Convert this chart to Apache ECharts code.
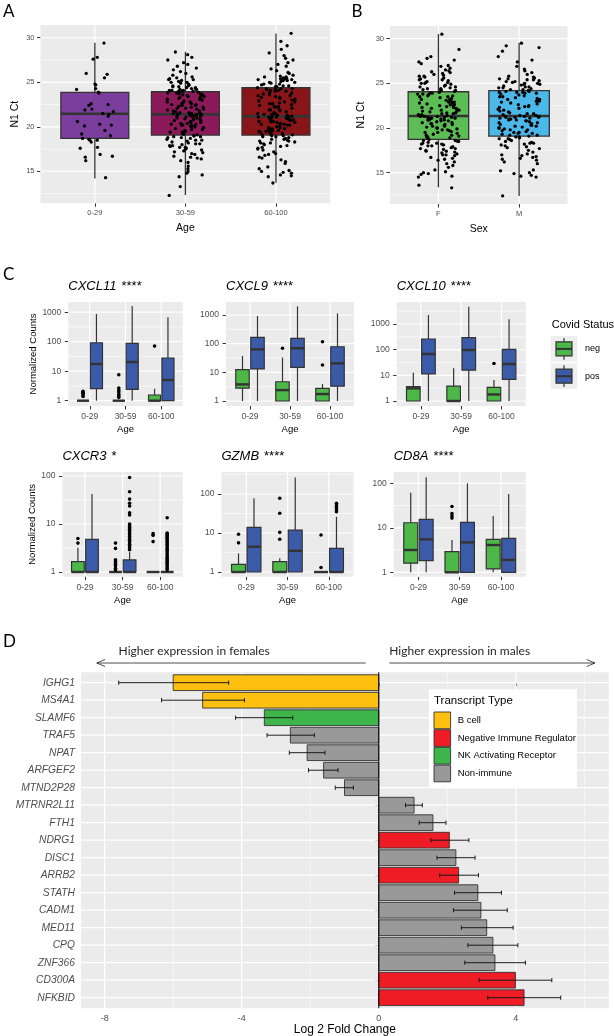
<!DOCTYPE html>
<html><head><meta charset="utf-8">
<script src="https://cdn.jsdelivr.net/npm/echarts@6.0.0/dist/echarts.min.js"></script>
<style>html,body{margin:0;padding:0;background:#fff}#c{width:614px;height:1036px}</style>
</head><body><div id="c"></div>
<script>
// ================= DATA =================
// Panel A : N1 Ct by age group
const ageGroups = ['0-29', '30-59', '60-100'];
// [min, Q1, median, Q3, max]
const ageBoxStats = [[14.2, 18.7, 21.47, 23.87, 29.44], [12.34, 19.08, 21.4, 23.94, 28.43], [13.72, 19.08, 21.18, 24.39, 30.49]];
const ctAge0029 = [29.4, 27.8, 27.6, 26.0, 25.9, 25.5, 24.8, 24.7, 24.3, 24.2, 23.9, 23.8, 22.6, 22.5, 22.4, 22.0, 21.9, 21.7, 21.5, 21.4, 21.2, 20.6, 20.3, 20.2, 20.1, 19.6, 19.2, 19.0, 18.7, 18.6, 18.5, 18.5, 18.3, 17.7, 17.6, 16.9, 16.7, 16.6, 16.2, 14.3];
const ctAge3059 = [12.3, 13.3, 14.4, 14.6, 14.8, 15.0, 15.3, 15.6, 16.0, 16.2, 16.4, 16.5, 16.7, 16.9, 17.0, 17.1, 17.3, 17.4, 17.5, 17.6, 17.7, 17.8, 17.9, 18.0, 18.1, 18.2, 18.3, 18.4, 18.5, 18.6, 18.7, 18.8, 18.8, 18.9, 19.0, 19.0, 19.1,
  19.2, 19.2, 19.3, 19.4, 19.4, 19.5, 19.6, 19.7, 19.8, 19.9, 20.0, 20.0, 20.1, 20.2, 20.2, 20.3, 20.4, 20.5, 20.5, 20.6, 20.7, 20.7, 20.8, 20.9, 20.9, 21.0, 21.0, 21.1, 21.1, 21.2, 21.2, 21.3, 21.3, 21.3, 21.4, 21.4, 21.4, 21.4,
  21.5, 21.5, 21.6, 21.6, 21.7, 21.8, 21.8, 21.9, 22.0, 22.0, 22.1, 22.2, 22.2, 22.3, 22.4, 22.5, 22.5, 22.6, 22.7, 22.8, 22.8, 22.9, 23.0, 23.0, 23.1, 23.2, 23.3, 23.3, 23.4, 23.5, 23.5, 23.6, 23.7, 23.7, 23.8, 23.8, 23.9, 23.9,
  24.0, 24.0, 24.1, 24.1, 24.2, 24.2, 24.3, 24.4, 24.4, 24.5, 24.6, 24.7, 24.8, 24.9, 25.0, 25.1, 25.2, 25.3, 25.4, 25.5, 25.6, 25.8, 26.0, 26.2, 26.4, 26.6, 26.8, 27.0, 27.2, 27.5, 27.8, 28.1, 28.4, 24.0, 24.3, 24.5, 25.0,
  16.6, 17.2, 17.7, 18.1, 18.5, 19.3, 19.7, 20.1, 20.4, 20.8, 21.2, 21.6, 22.1, 22.6, 23.1, 23.6, 24.1, 24.6, 25.3, 17.9, 18.9, 20.3, 22.4, 23.4];
const ctAge60100 = [13.7, 14.4, 14.5, 14.6, 14.8, 14.9, 15.0, 15.1, 15.3, 15.5, 15.9, 16.3, 16.5, 16.6, 16.8, 17.0, 17.2, 17.4, 17.6, 17.7, 17.8, 17.9, 18.0, 18.1, 18.2, 18.3, 18.4, 18.5, 18.6, 18.7, 18.8, 18.9, 18.9, 19.0, 19.0, 19.1, 19.1,
  19.2, 19.2, 19.3, 19.3, 19.4, 19.5, 19.5, 19.6, 19.7, 19.7, 19.8, 19.9, 19.9, 20.0, 20.1, 20.1, 20.2, 20.3, 20.3, 20.4, 20.5, 20.5, 20.6, 20.6, 20.7, 20.8, 20.8, 20.9, 20.9, 21.0, 21.0, 21.0, 21.1, 21.1, 21.1, 21.2, 21.2, 21.2,
  21.3, 21.3, 21.4, 21.5, 21.5, 21.6, 21.7, 21.8, 21.9, 22.0, 22.1, 22.2, 22.3, 22.4, 22.5, 22.6, 22.7, 22.8, 22.9, 23.0, 23.1, 23.2, 23.3, 23.4, 23.5, 23.6, 23.7, 23.8, 23.9, 24.0, 24.0, 24.1, 24.1, 24.2, 24.2, 24.3, 24.3, 24.4,
  24.5, 24.5, 24.6, 24.7, 24.8, 24.9, 25.0, 25.1, 25.2, 25.3, 25.3, 25.4, 25.4, 25.5, 25.5, 25.6, 25.7, 25.8, 26.0, 26.1, 26.3, 26.5, 26.8, 27.0, 27.2, 27.5, 27.7, 28.0, 28.3, 28.7, 29.1, 29.6, 30.5, 25.2, 25.4, 24.6, 25.0,
  16.1, 16.9, 17.5, 18.2, 18.6, 19.4, 19.8, 20.2, 20.6, 21.0, 21.4, 21.9, 22.3, 22.8, 23.3, 23.8, 24.3, 24.8, 25.6, 18.4, 19.6, 20.7, 22.6, 23.5];

// Panel B : N1 Ct by sex
const sexGroups = ['F', 'M'];
const sexBoxStats = [[13.36, 18.73, 21.34, 24.06, 30.53], [12.38, 19.1, 21.34, 24.18, 29.55]];
const ctSexF = [13.3, 13.6, 14.5, 14.6, 14.8, 14.9, 15.0, 15.1, 15.3, 15.6, 15.8, 16.0, 16.2, 16.4, 16.6, 16.7, 16.9, 17.0, 17.1, 17.2, 17.3, 17.4, 17.5, 17.6, 17.7, 17.7, 17.8, 17.9, 18.0, 18.0, 18.1, 18.2, 18.3, 18.3, 18.4, 18.5, 18.5, 18.6, 18.6, 18.7,
  18.8, 18.9, 19.0, 19.1, 19.2, 19.2, 19.3, 19.4, 19.5, 19.5, 19.6, 19.7, 19.8, 19.9, 20.0, 20.0, 20.1, 20.2, 20.2, 20.3, 20.4, 20.4, 20.5, 20.6, 20.6, 20.7, 20.8, 20.8, 20.9, 20.9, 21.0, 21.0, 21.1, 21.1, 21.2, 21.2, 21.2, 21.3, 21.3, 21.3,
  21.4, 21.4, 21.5, 21.5, 21.6, 21.6, 21.7, 21.8, 21.8, 21.9, 22.0, 22.0, 22.1, 22.2, 22.2, 22.3, 22.4, 22.5, 22.5, 22.6, 22.7, 22.8, 22.8, 22.9, 23.0, 23.1, 23.2, 23.2, 23.3, 23.4, 23.5, 23.5, 23.6, 23.7, 23.8, 23.8, 23.9, 23.9, 24.0, 24.1,
  24.2, 24.2, 24.3, 24.4, 24.4, 24.5, 24.6, 24.7, 24.8, 24.9, 25.0, 25.1, 25.2, 25.3, 25.4, 25.5, 25.6, 25.7, 25.8, 25.9, 26.0, 26.1, 26.2, 26.4, 26.5, 26.7, 26.9, 27.0, 27.2, 27.4, 27.6, 27.8, 28.0, 28.8, 30.5, 24.6, 25.0, 25.4, 25.8, 26.3,
  16.5, 17.4, 18.2, 19.0, 19.8, 20.5, 21.1, 21.7, 22.3, 22.9, 23.6, 24.3, 25.1, 17.0, 20.9, 22.6];
const ctSexM = [12.4, 14.5, 14.6, 14.7, 14.9, 15.0, 15.2, 15.3, 16.0, 16.2, 16.4, 16.5, 16.6, 16.8, 16.9, 17.1, 17.3, 17.5, 17.7, 17.8, 17.9, 18.0, 18.1, 18.2, 18.3, 18.4, 18.5, 18.6, 18.7, 18.8, 18.8, 18.9, 19.0, 19.0, 19.1,
  19.2, 19.2, 19.3, 19.4, 19.5, 19.5, 19.6, 19.7, 19.8, 19.9, 20.0, 20.0, 20.1, 20.2, 20.3, 20.3, 20.4, 20.4, 20.5, 20.6, 20.6, 20.7, 20.8, 20.8, 20.9, 21.0, 21.0, 21.1, 21.1, 21.2, 21.2, 21.2, 21.3, 21.3, 21.3,
  21.4, 21.4, 21.5, 21.6, 21.7, 21.8, 21.9, 22.0, 22.1, 22.2, 22.3, 22.4, 22.5, 22.6, 22.7, 22.8, 22.9, 23.0, 23.0, 23.1, 23.2, 23.3, 23.4, 23.5, 23.5, 23.6, 23.7, 23.8, 23.9, 23.9, 24.0, 24.0, 24.1, 24.1, 24.2,
  24.3, 24.3, 24.4, 24.5, 24.5, 24.6, 24.7, 24.8, 24.9, 25.0, 25.0, 25.1, 25.2, 25.3, 25.4, 25.5, 25.5, 25.6, 25.7, 25.8, 26.0, 26.2, 26.4, 26.6, 26.9, 27.4, 27.6, 28.0, 28.6, 29.0, 29.2, 29.5, 24.6, 25.2, 25.4,
  17.0, 18.3, 19.4, 20.2, 20.9, 21.6, 22.4, 23.2, 24.0, 24.9, 16.7, 19.8];
const ctTicks = [15, 20, 25, 30];
const ctMinorTicks = [12.5, 17.5, 22.5, 27.5];

// Panel C : normalized counts, [min, Q1, median, Q3, max] per age group
const cAgeGroups = ['0-29', '30-59', '60-100'];
const covidStatus = ['neg', 'pos'];
const cxcl11Neg = [[1, 1, 1, 1, 1], [1, 1, 1, 1, 1], [1, 1, 1, 1.56, 2.55]];
const cxcl11Pos = [[1, 2.55, 17.5, 92, 868], [1, 2.43, 20.5, 88, 1620], [1, 1, 5.0, 28, 670]];
const cxcl11NegOut = [[2.1, 1.9, 1.8, 1.6, 1.4], [7.6, 2.7, 2.3, 2.0, 1.7, 1.5, 1.3], [71]];
const cxcl11PosOut = [[], [], []];
const cxcl9Neg = [[1, 2.8, 3.8, 12.5, 37], [1, 1, 2.4, 4.7, 33], [1, 1, 1.75, 2.77, 3.9]];
const cxcl9Pos = [[1, 13.1, 63, 167, 920], [1, 15, 69, 153, 2000], [1, 3.3, 20.6, 78, 1140]];
const cxcl9NegOut = [[], [69], [18, 117]];
const cxcl9PosOut = [[], [], []];
const cxcl10Neg = [[1, 1, 3.1, 3.6, 12.7], [1, 1, 1, 3.8, 18.8], [1, 1, 1.8, 3.4, 6.6]];
const cxcl10Pos = [[1, 11.3, 68, 260, 2240], [1, 16, 97, 292, 4700], [1, 7, 27.6, 103, 1530]];
const cxcl10NegOut = [[], [], [29]];
const cxcl10PosOut = [[], [], []];
const cxcr3Neg = [[1, 1, 1, 1.64, 3.2], [1, 1, 1, 1, 1], [1, 1, 1, 1, 1]];
const cxcr3Pos = [[1, 1, 1, 4.8, 42], [1, 1, 1, 1.78, 2.6], [1, 1, 1, 1, 1]];
const cxcr3NegOut = [[5.0, 4.0], [4.0, 3.1, 1.8, 1.7, 1.55, 1.45, 1.35, 1.2, 1.1], [6.3, 5.8, 4.3]];
const cxcr3PosOut = [[], [93, 47, 33, 27, 23.7, 17.2, 15.4, 10, 9.3, 8.5, 7.8, 7.2, 6.6, 6, 5.5, 5, 4.6, 4.2, 3.8, 3.5, 3.2, 2.9],
  [13.5, 6.5, 6.2, 5.9, 5.6, 5.3, 5.0, 4.7, 4.4, 4.1, 3.8, 3.5, 3.2, 3.0, 2.8, 2.6, 2.4, 2.2, 2.0, 1.9, 1.8, 1.7, 1.6, 1.5, 1.4, 1.3, 1.2, 1.1]];
const gzmbNeg = [[1, 1, 1, 1.57, 3.0], [1, 1, 1, 1.84, 2.25], [1, 1, 1, 1, 1]];
const gzmbPos = [[1, 1, 4.45, 14, 78], [1, 1, 3.5, 11.9, 266], [1, 1, 1, 4.05, 26]];
const gzmbNegOut = [[9.3, 5.6], [78, 32, 10.4, 6.9], [8.9, 1.3]];
const gzmbPosOut = [[], [], [58, 52, 46, 40, 35]];
const cd8aNeg = [[1, 1.6, 3.17, 13, 61.6], [1, 1, 1, 2.9, 5.3], [1, 1.19, 4.1, 5.5, 18.4]];
const cd8aPos = [[1, 1.82, 5.5, 15.5, 136], [1, 1, 4.7, 13.3, 100], [1, 1, 1.9, 5.8, 57.6]];
const cd8aNegOut = [[], [30, 21, 18.5, 16.5], []];
const cd8aPosOut = [[], [], []];
const logTicks = [1, 10, 100, 1000];
const logMinorTicks = [3.162, 31.62, 316.2, 3162];

// Panel D : log2 fold change (males vs females)
const dGenes = ['IGHG1', 'MS4A1', 'SLAMF6', 'TRAF5', 'NPAT', 'ARFGEF2', 'MTND2P28', 'MTRNR2L11', 'FTH1', 'NDRG1', 'DISC1', 'ARRB2', 'STATH', 'CADM1', 'MED11', 'CPQ', 'ZNF366', 'CD300A', 'NFKBID'];
const dLog2FC = [-6.0, -5.14, -3.34, -2.58, -2.09, -1.61, -1.0, 1.03, 1.58, 2.06, 2.25, 2.33, 2.89, 2.98, 3.15, 3.33, 3.39, 3.99, 4.24];
const dErrLow = [-7.59, -6.34, -4.18, -3.26, -2.61, -2.05, -1.27, 0.78, 1.18, 1.52, 1.70, 1.78, 2.21, 2.18, 2.41, 2.60, 2.51, 2.93, 3.18];
const dErrHigh = [-4.38, -3.92, -2.51, -1.88, -1.57, -1.19, -0.74, 1.27, 1.96, 2.63, 2.81, 2.91, 3.58, 3.75, 3.92, 4.06, 4.28, 5.05, 5.31];
const transcriptTypes = ['B cell', 'Negative Immune Regulator', 'NK Activating Receptor', 'Non-immune'];
const dType = ['B cell', 'B cell', 'NK Activating Receptor', 'Non-immune', 'Non-immune', 'Non-immune', 'Non-immune', 'Non-immune', 'Non-immune', 'Negative Immune Regulator', 'Non-immune', 'Negative Immune Regulator', 'Non-immune', 'Non-immune', 'Non-immune', 'Non-immune', 'Non-immune', 'Negative Immune Regulator', 'Negative Immune Regulator'];
const fcTicks = [-8, -4, 0, 4];
const fcMinorTicks = [-6, -2, 2, 6];

// ================= STYLE / LAYOUT =================
const FONT = '"Liberation Sans", Arial, sans-serif';
const LETTER_FONT = 'Lato, "Open Sans", sans-serif';
const ageColors = ['#7C3E9C', '#8C1A5B', '#8A1519'];
const sexColors = ['#5DBD55', '#4CB8EA'];
const covidColors = ['#4DB748', '#3B5BA9'];
const typeColors = {'B cell': '#FDC010', 'Negative Immune Regulator': '#EE1C25', 'NK Activating Receptor': '#3DB54A', 'Non-immune': '#999999'};
const EDGE = '#333333';

const grids = [], xAxes = [], yAxes = [], series = [], titles = [], graphics = [];

function addGrid(l) {
  grids.push({left: l.left, top: l.top, width: l.width, height: l.height, show: true, backgroundColor: '#EBEBEB', borderWidth: 0, containLabel: false, outerBoundsMode: 'none'});
  return grids.length - 1;
}
function catXAxis(gi, cats, o) {
  const ticks = cats.map((_, i) => i + 1);
  return {type: 'value', gridIndex: gi, min: 0.4, max: cats.length + 0.6,
    axisLine: {show: false}, splitLine: {show: false}, minorTick: {show: false},
    axisTick: {show: true, length: 3.5, lineStyle: {color: EDGE, width: 1}, customValues: ticks},
    axisLabel: {customValues: ticks, formatter: v => cats[Math.round(v) - 1], color: '#4D4D4D', fontSize: o.fs, fontFamily: FONT, margin: 6},
    name: o.name, nameLocation: 'middle', nameGap: o.nameGap, nameTextStyle: {color: '#000', fontSize: o.nameFs, fontFamily: FONT}};
}
function numYAxis(gi, o) {
  const ax = {type: o.log ? 'log' : 'value', gridIndex: gi, min: o.min, max: o.max, inverse: !!o.inverse,
    axisLine: {show: false}, splitLine: {show: false}, minorTick: {show: false},
    axisTick: {show: true, length: 3.5, lineStyle: {color: EDGE, width: 1}, customValues: o.ticks},
    axisLabel: {customValues: o.ticks, formatter: o.fmt, color: '#4D4D4D', fontSize: o.fs, fontFamily: FONT, margin: o.margin || 6, fontStyle: o.italic ? 'italic' : 'normal'},
    name: o.name || '', nameLocation: 'middle', nameGap: o.nameGap || 20, nameTextStyle: {color: '#000', fontSize: o.nameFs || 10, fontFamily: FONT}};
  if (o.log) ax.logBase = 10;
  return ax;
}
function gridLinesSeries(gi, xMaj, xMin, yMaj, yMin, ref) {
  return {type: 'custom', xAxisIndex: gi, yAxisIndex: gi, silent: true, z: 1, clip: false, animation: false, data: [ref],
    renderItem: (params, api) => {
      const cs = params.coordSys, ch = [];
      const hl = (v, w) => { const y = api.coord([ref[0], v])[1]; ch.push({type: 'line', shape: {x1: cs.x, y1: y, x2: cs.x + cs.width, y2: y}, style: {stroke: '#FFFFFF', lineWidth: w}}); };
      const vl = (v, w) => { const x = api.coord([v, ref[1]])[0]; ch.push({type: 'line', shape: {x1: x, y1: cs.y, x2: x, y2: cs.y + cs.height}, style: {stroke: '#FFFFFF', lineWidth: w}}); };
      yMin.forEach(v => hl(v, 0.6)); xMin.forEach(v => vl(v, 0.6));
      yMaj.forEach(v => hl(v, 1.2)); xMaj.forEach(v => vl(v, 1.2));
      return {type: 'group', children: ch};
    }};
}
// items: [x, min, q1, med, q3, max, colorIdx]
function boxSeries(gi, items, width, colors, lw, medW) {
  return {type: 'custom', xAxisIndex: gi, yAxisIndex: gi, silent: true, z: 2, animation: false, data: items,
    encode: {x: 0, y: [1, 2, 3, 4, 5]},
    renderItem: (params, api) => {
      const x = api.value(0);
      const pMin = api.coord([x, api.value(1)]), pQ1 = api.coord([x, api.value(2)]), pMed = api.coord([x, api.value(3)]);
      const pQ3 = api.coord([x, api.value(4)]), pMax = api.coord([x, api.value(5)]);
      const xl = api.coord([x - width / 2, api.value(3)])[0], xr = api.coord([x + width / 2, api.value(3)])[0];
      const cx = pMed[0];
      return {type: 'group', children: [
        {type: 'line', shape: {x1: cx, y1: pQ3[1], x2: cx, y2: pMax[1]}, style: {stroke: EDGE, lineWidth: lw}},
        {type: 'line', shape: {x1: cx, y1: pQ1[1], x2: cx, y2: pMin[1]}, style: {stroke: EDGE, lineWidth: lw}},
        {type: 'rect', shape: {x: xl, y: pQ3[1], width: xr - xl, height: pQ1[1] - pQ3[1]}, style: {fill: colors[api.value(6)], stroke: EDGE, lineWidth: lw}},
        {type: 'line', shape: {x1: xl, y1: pMed[1], x2: xr, y2: pMed[1]}, style: {stroke: EDGE, lineWidth: medW}}
      ]};
    }};
}
function pointSeries(gi, data, size) {
  return {type: 'scatter', xAxisIndex: gi, yAxisIndex: gi, silent: true, z: 3, animation: false, data: data, symbolSize: size, itemStyle: {color: '#000000', opacity: 1}};
}
// deterministic horizontal jitter (position only)
function jitter(i, g, w) { const s = Math.sin((i + 1) * 12.9898 + (g + 1) * 78.233) * 43758.5453; const f = s - Math.floor(s); return (f - 0.5) * 2 * w; }

// ---------- Panel A ----------
(function () {
  const gi = addGrid({left: 40.5, top: 25, width: 289.8, height: 178.3});
  xAxes.push(catXAxis(gi, ageGroups, {fs: 7.5, name: 'Age', nameGap: 19.5, nameFs: 10.5}));
  yAxes.push(numYAxis(gi, {min: 11.42, max: 31.43, ticks: ctTicks, fmt: v => String(Math.round(v)), fs: 7.5, name: 'N1 Ct', nameGap: 20, nameFs: 10.5}));
  series.push(gridLinesSeries(gi, [1, 2, 3], [], ctTicks, ctMinorTicks, [1, 20]));
  series.push(boxSeries(gi, ageBoxStats.map((s, g) => [g + 1, ...s, g]), 0.75, ageColors, 1.3, 2.6));
  const pts = [];
  [ctAge0029, ctAge3059, ctAge60100].forEach((arr, g) => arr.forEach((v, i) => pts.push([g + 1 + jitter(i, g, 0.21), v])));
  series.push(pointSeries(gi, pts, 3.3));
})();
// ---------- Panel B ----------
(function () {
  const gi = addGrid({left: 390, top: 26, width: 177.5, height: 178});
  xAxes.push(catXAxis(gi, sexGroups, {fs: 7.5, name: 'Sex', nameGap: 19.5, nameFs: 10.5}));
  yAxes.push(numYAxis(gi, {min: 11.49, max: 31.42, ticks: ctTicks, fmt: v => String(Math.round(v)), fs: 7.5, name: 'N1 Ct', nameGap: 23, nameFs: 10.5}));
  series.push(gridLinesSeries(gi, [1, 2], [], ctTicks, ctMinorTicks, [1, 20]));
  series.push(boxSeries(gi, sexBoxStats.map((s, g) => [g + 1, ...s, g]), 0.75, sexColors, 1.3, 2.6));
  const pts = [];
  [ctSexF, ctSexM].forEach((arr, g) => arr.forEach((v, i) => pts.push([g + 1 + jitter(i, g + 5, 0.26), v])));
  series.push(pointSeries(gi, pts, 3.3));
})();
// ---------- Panel C ----------
function cPanel(gene, stars, neg, pos, negOut, posOut, L) {
  const gi = addGrid({left: L.left, top: L.top, width: L.width, height: L.height});
  const lo = Math.pow(10, L.lo), hi = Math.pow(10, L.hi);
  const maj = logTicks.filter(v => v >= lo && v <= hi), mnr = logMinorTicks.filter(v => v >= lo && v <= hi);
  xAxes.push(catXAxis(gi, cAgeGroups, {fs: 8.5, name: 'Age', nameGap: 18.5, nameFs: 9.5}));
  yAxes.push(numYAxis(gi, {log: true, min: lo, max: hi, ticks: maj, fmt: v => String(Math.round(v)), fs: 8.5, margin: 7,
    name: L.yName ? 'Normalized Counts' : '', nameGap: L.nameGap, nameFs: 9.5}));
  series.push(gridLinesSeries(gi, [1, 2, 3], [], maj, mnr, [1, 1]));
  const items = [], pts = [];
  for (let g = 0; g < 3; g++) {
    items.push([g + 1 - 0.1875, ...neg[g], 0]);
    items.push([g + 1 + 0.1875, ...pos[g], 1]);
    negOut[g].forEach(v => pts.push([g + 1 - 0.1875, v]));
    posOut[g].forEach(v => pts.push([g + 1 + 0.1875, v]));
  }
  series.push(boxSeries(gi, items, 0.3375, covidColors, 1.2, 2.4));
  series.push(pointSeries(gi, pts, 3.6));
  titles.push({left: L.left, top: L.titleTop, padding: 0, text: '{g|' + gene + '} {s|' + stars + '}',
    textStyle: {fontWeight: 'normal', rich: {g: {fontStyle: 'italic', fontWeight: 'normal', fontSize: 13, fontFamily: FONT, color: '#000'}, s: {fontWeight: 'normal', fontSize: 13, fontFamily: FONT, color: '#000'}}}});
}
cPanel('CXCL11', '****', cxcl11Neg, cxcl11Pos, cxcl11NegOut, cxcl11PosOut, {left: 68.3, top: 302, width: 114.4, height: 104, lo: -0.18, hi: 3.346, yName: true, nameGap: 30, titleTop: 277});
cPanel('CXCL9', '****', cxcl9Neg, cxcl9Pos, cxcl9NegOut, cxcl9PosOut, {left: 226, top: 302, width: 128, height: 104, lo: -0.174, hi: 3.453, titleTop: 277});
cPanel('CXCL10', '****', cxcl10Neg, cxcl10Pos, cxcl10NegOut, cxcl10PosOut, {left: 396.7, top: 302, width: 129, height: 104, lo: -0.195, hi: 3.857, titleTop: 277});
cPanel('CXCR3', '*', cxcr3Neg, cxcr3Pos, cxcr3NegOut, cxcr3PosOut, {left: 62.4, top: 472, width: 120.3, height: 104.7, lo: -0.098, hi: 2.083, yName: true, nameGap: 24.4, titleTop: 447});
cPanel('GZMB', '****', gzmbNeg, gzmbPos, gzmbNegOut, gzmbPosOut, {left: 221.5, top: 472, width: 132, height: 104.7, lo: -0.12, hi: 2.564, titleTop: 447});
cPanel('CD8A', '****', cd8aNeg, cd8aPos, cd8aNegOut, cd8aPosOut, {left: 393.7, top: 472, width: 132, height: 104.7, lo: -0.099, hi: 2.254, titleTop: 447});

// ---------- Panel D ----------
(function () {
  const gi = addGrid({left: 81, top: 672.2, width: 527.7, height: 336});
  const rows = dGenes.map((_, i) => i);
  xAxes.push({type: 'value', gridIndex: gi, min: -8.69, max: 6.71, axisLine: {show: false}, splitLine: {show: false}, minorTick: {show: false},
    axisTick: {show: true, length: 3.5, lineStyle: {color: EDGE, width: 1}, customValues: fcTicks},
    axisLabel: {customValues: fcTicks, formatter: v => String(Math.round(v)), color: '#4D4D4D', fontSize: 9, fontFamily: FONT, margin: 6},
    name: 'Log 2 Fold Change', nameLocation: 'middle', nameGap: 14.5, nameTextStyle: {color: '#000', fontSize: 12, fontFamily: FONT}});
  yAxes.push(numYAxis(gi, {min: -0.6, max: dGenes.length - 0.4, inverse: true, ticks: rows, fmt: v => dGenes[Math.round(v)], fs: 10.3, italic: true, margin: 6}));
  series.push(gridLinesSeries(gi, fcTicks, fcMinorTicks, rows, [], [0, 0]));
  const typeIdx = dType.map(t => transcriptTypes.indexOf(t));
  const colorList = transcriptTypes.map(t => typeColors[t]);
  series.push({type: 'custom', xAxisIndex: gi, yAxisIndex: gi, silent: true, z: 2, animation: false,
    data: dLog2FC.map((v, i) => [v, i, typeIdx[i]]), encode: {x: 0, y: 1},
    renderItem: (params, api) => {
      const v = api.value(0), r = api.value(1);
      const a = api.coord([0, r - 0.45]), b = api.coord([v, r + 0.45]);
      return {type: 'rect', shape: {x: Math.min(a[0], b[0]), y: Math.min(a[1], b[1]), width: Math.abs(b[0] - a[0]), height: Math.abs(b[1] - a[1])},
        style: {fill: colorList[api.value(2)], stroke: EDGE, lineWidth: 0.9}};
    }});
  series.push({type: 'custom', xAxisIndex: gi, yAxisIndex: gi, silent: true, z: 3, animation: false,
    data: dErrLow.map((lo, i) => [lo, i, dErrHigh[i]]), encode: {x: [0, 2], y: 1},
    renderItem: (params, api) => {
      const r = api.value(1);
      const p1 = api.coord([api.value(0), r]), p2 = api.coord([api.value(2), r]);
      const c1 = api.coord([0, r - 0.12])[1], c2 = api.coord([0, r + 0.12])[1];
      const st = {stroke: '#1A1A1A', lineWidth: 1};
      return {type: 'group', children: [
        {type: 'line', shape: {x1: p1[0], y1: p1[1], x2: p2[0], y2: p2[1]}, style: st},
        {type: 'line', shape: {x1: p1[0], y1: c1, x2: p1[0], y2: c2}, style: st},
        {type: 'line', shape: {x1: p2[0], y1: c1, x2: p2[0], y2: c2}, style: st}]};
    }});
  series.push({type: 'custom', xAxisIndex: gi, yAxisIndex: gi, silent: true, z: 4, animation: false, clip: false, data: [[0, 0]],
    renderItem: (params, api) => {
      const cs = params.coordSys, x = api.coord([0, 0])[0];
      return {type: 'line', shape: {x1: x, y1: cs.y, x2: x, y2: cs.y + cs.height}, style: {stroke: '#000', lineWidth: 1}};
    }});
  // legend (Transcript Type)
  const lg = [{type: 'rect', shape: {x: 428.9, y: 689.3, width: 148.1, height: 99}, style: {fill: '#FFFFFF'}},
    {type: 'text', x: 434, y: 700.7, style: {text: 'Transcript Type', font: '11.5px ' + FONT, fill: '#000', verticalAlign: 'middle'}}];
  transcriptTypes.forEach((t, k) => {
    const y = 712 + k * 17.7;
    lg.push({type: 'rect', shape: {x: 434, y: y, width: 16.6, height: 16.7}, style: {fill: typeColors[t], stroke: EDGE, lineWidth: 0.9}});
    lg.push({type: 'text', x: 457.7, y: y + 8.35, style: {text: t, font: '9.5px ' + FONT, fill: '#000', verticalAlign: 'middle'}});
  });
  graphics.push(...lg);
  // direction annotations
  const ay = 663, st = {stroke: '#231F20', lineWidth: 0.8, fill: null};
  graphics.push({type: 'text', x: 118.6, y: 651, style: {text: 'Higher expression in females', font: '12px ' + LETTER_FONT, fill: '#231F20', verticalAlign: 'middle'}});
  graphics.push({type: 'text', x: 389.3, y: 651, style: {text: 'Higher expression in males', font: '12px ' + LETTER_FONT, fill: '#231F20', verticalAlign: 'middle'}});
  graphics.push({type: 'line', shape: {x1: 96.8, y1: ay, x2: 365.6, y2: ay}, style: st});
  graphics.push({type: 'polyline', shape: {points: [[105, ay - 3.5], [96.8, ay], [105, ay + 3.5]]}, style: st});
  graphics.push({type: 'line', shape: {x1: 389.3, y1: ay, x2: 594.9, y2: ay}, style: st});
  graphics.push({type: 'polyline', shape: {points: [[586.7, ay - 3.5], [594.9, ay], [586.7, ay + 3.5]]}, style: st});
})();

// Covid Status legend
(function () {
  graphics.push({type: 'text', x: 551.7, y: 325, style: {text: 'Covid Status', font: '11px ' + FONT, fill: '#000', verticalAlign: 'middle'}});
  covidStatus.forEach((s, k) => {
    const y0 = 336 + k * 27.3, cx = 564, cy = y0 + 12.9;
    graphics.push({type: 'rect', shape: {x: 550.7, y: y0, width: 26.6, height: 25.8}, style: {fill: '#EEEEEE'}});
    graphics.push({type: 'line', shape: {x1: cx, y1: y0 + 2, x2: cx, y2: y0 + 23.8}, style: {stroke: EDGE, lineWidth: 1.2}});
    graphics.push({type: 'rect', shape: {x: cx - 8, y: cy - 7, width: 16, height: 14}, style: {fill: covidColors[k], stroke: EDGE, lineWidth: 1.2}});
    graphics.push({type: 'line', shape: {x1: cx - 8, y1: cy, x2: cx + 8, y2: cy}, style: {stroke: EDGE, lineWidth: 2}});
    graphics.push({type: 'text', x: 585, y: cy, style: {text: s, font: '9px ' + FONT, fill: '#000', verticalAlign: 'middle'}});
  });
})();

// Panel letters
[['A', 3, 11.5], ['B', 351.5, 11.5], ['C', 3, 275], ['D', 3, 641.5]].forEach(([t, x, y]) => {
  graphics.push({type: 'text', x: x, y: y, style: {text: t, font: '17px ' + LETTER_FONT, fill: '#000', verticalAlign: 'middle'}});
});
// graphic overlays drawn above the series
graphics.forEach((g, i) => { g.z = 100 + i; });

const chart = echarts.init(document.getElementById('c'), null, {renderer: 'canvas', width: 614, height: 1036});
chart.setOption({animation: false, backgroundColor: '#FFFFFF', title: titles, grid: grids, xAxis: xAxes, yAxis: yAxes, series: series, graphic: {elements: graphics}});
</script>
</body></html>
